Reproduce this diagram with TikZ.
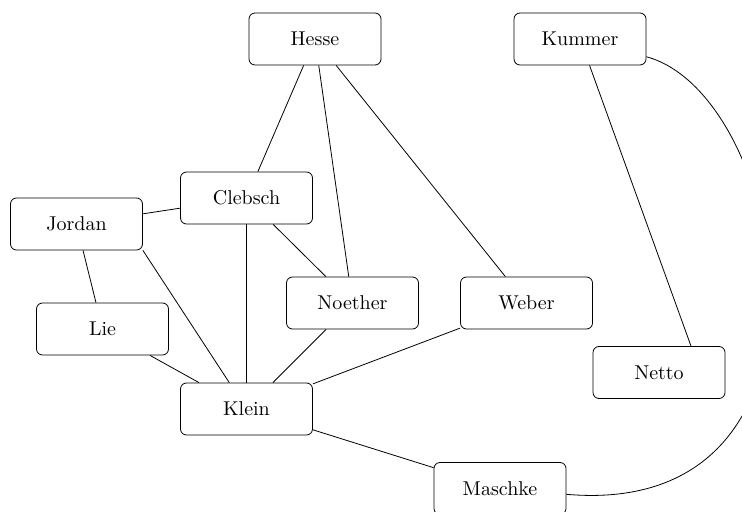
\documentclass[tikz,border=0pt]{standalone}
\usepackage{amsmath}
\usetikzlibrary{positioning}
\tikzset{%
  person/.style={draw, rectangle, rounded corners=3pt, minimum width=66pt,
    minimum height=26pt, inner sep=0pt},% name box
  link/.style={line width=0.4pt}% plain connector
}
\begin{document}
\begin{tikzpicture}[x=5pt, y=5pt]
\useasboundingbox (0, 0) rectangle (74.2, -51.2);

\node[person] (hesse)   at (31.5, -3.9)   {Hesse};
\node[person] (kummer)  at (58.0, -3.9)   {Kummer};
\node[person] (clebsch) at (24.65, -19.8) {Clebsch};
\node[person] (jordan)  at (7.65, -22.4)  {Jordan};
\node[person] (noether) at (35.25, -30.3) {Noether};
\node[person] (weber)   at (52.65, -30.3) {Weber};
\node[person] (lie)     at (10.25, -32.9) {Lie};
\node[person] (netto)   at (65.9, -37.25) {Netto};
\node[person] (klein)   at (24.65, -40.9) {Klein};
\node[person] (maschke) at (50.0, -48.85) {Maschke};

\draw (hesse) edge[link] (clebsch);
\draw (hesse) edge[link] (noether);
\draw (hesse) edge[link] (weber);
\draw (kummer) edge[link] ([xshift=16pt]netto.north);
\draw (kummer) edge[link, out=-15, in=-5, out looseness=0.85, in looseness=1.7] (maschke);
\draw (clebsch) edge[link] (jordan);
\draw (clebsch) edge[link] (klein);
\draw (clebsch) edge[link] (noether);
\draw (jordan) edge[link] (lie);
\draw (jordan.south east) edge[link] (klein);
\draw (lie) edge[link] (klein);
\draw (noether) edge[link] (klein);
\draw (weber) edge[link] (klein);
\draw (klein) edge[link] (maschke);

\end{tikzpicture}
\end{document}
